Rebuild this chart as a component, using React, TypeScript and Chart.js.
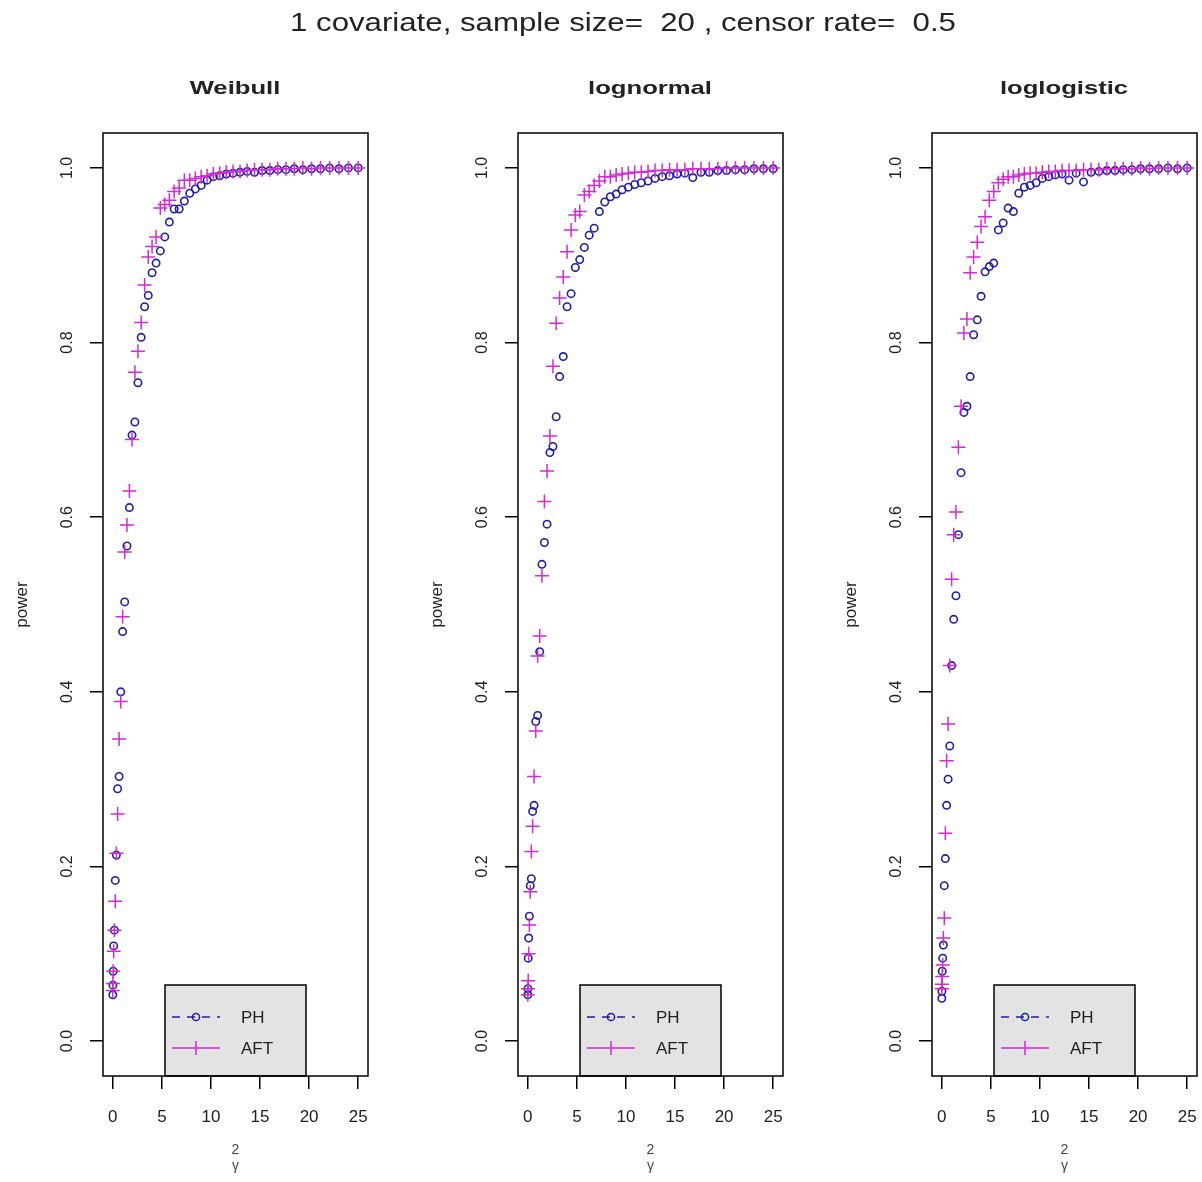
import React, { useEffect, useRef } from 'react';
import { Chart, registerables } from 'chart.js';

Chart.register(...registerables);

// ---------- data ----------
const MAIN_TITLE = '1 covariate, sample size=  20 , censor rate=  0.5';
const PANEL_TITLES = ['Weibull', 'lognormal', 'loglogistic'];
const LEGEND_LABELS = ['PH', 'AFT'];
const X_TICKS = [0, 5, 10, 15, 20, 25];
const Y_TICKS = [0, 0.2, 0.4, 0.6, 0.8, 1.0];
const Y_LABEL = 'power';
const X_LABEL = ['2', 'γ'];

// x = gamma^2
const GAMMA_SQ = [
  0, 0.01, 0.04, 0.09, 0.16, 0.25, 0.36, 0.49, 0.64, 0.81, 1, 1.21, 1.44, 1.69, 1.96, 2.25, 2.56,
  2.89, 3.24, 3.61, 4, 4.41, 4.84, 5.29, 5.76, 6.25, 6.76, 7.29, 7.84, 8.41, 9, 9.61, 10.24, 10.89,
  11.56, 12.25, 12.96, 13.69, 14.44, 15.21, 16, 16.81, 17.64, 18.49, 19.36, 20.25, 21.16, 22.09,
  23.04, 24.01, 25,
];

const WEIBULL_PH = [
  0.053, 0.064, 0.08, 0.109, 0.127, 0.184, 0.213, 0.289, 0.303, 0.4, 0.469, 0.503, 0.567, 0.611,
  0.694, 0.709, 0.754, 0.806, 0.841, 0.854, 0.88, 0.891, 0.905, 0.921, 0.938, 0.953, 0.953, 0.962,
  0.971, 0.976, 0.98, 0.986, 0.99, 0.991, 0.993, 0.994, 0.995, 0.996, 0.995, 0.997, 0.997, 0.998,
  0.998, 0.999, 0.998, 0.999, 0.999, 1.0, 0.999, 1.0, 1.0,
];
const WEIBULL_AFT = [
  0.058, 0.066, 0.08, 0.103, 0.127, 0.16, 0.215, 0.26, 0.346, 0.389, 0.486, 0.56, 0.591, 0.63,
  0.689, 0.766, 0.79, 0.823, 0.866, 0.898, 0.91, 0.921, 0.954, 0.958, 0.963, 0.973, 0.977, 0.986,
  0.986, 0.988, 0.99, 0.991, 0.993, 0.994, 0.995, 0.996, 0.996, 0.997, 0.998, 0.998, 0.998, 0.999,
  0.999, 0.999, 1.0, 0.999, 1.0, 1.0, 1.0, 1.0, 1.0,
];
const LOGNORMAL_PH = [
  0.053, 0.06, 0.095, 0.118, 0.143, 0.178, 0.186, 0.263, 0.27, 0.366, 0.373, 0.446, 0.546, 0.571,
  0.592, 0.674, 0.681, 0.715, 0.761, 0.784, 0.841, 0.856, 0.886, 0.895, 0.909, 0.923, 0.931, 0.95,
  0.961, 0.967, 0.97, 0.975, 0.978, 0.981, 0.983, 0.985, 0.988, 0.99, 0.991, 0.993, 0.994, 0.989,
  0.995, 0.995, 0.997, 0.997, 0.998, 0.998, 0.999, 0.999, 0.999,
];
const LOGNORMAL_AFT = [
  0.053, 0.06, 0.069, 0.1, 0.133, 0.171, 0.217, 0.246, 0.303, 0.355, 0.441, 0.464, 0.533, 0.618,
  0.653, 0.693, 0.773, 0.822, 0.851, 0.875, 0.904, 0.929, 0.946, 0.95, 0.969, 0.973, 0.98, 0.985,
  0.99, 0.99, 0.992, 0.993, 0.994, 0.995, 0.995, 0.996, 0.997, 0.997, 0.998, 0.998, 0.998, 0.999,
  0.999, 0.999, 0.999, 1.0, 1.0, 1.0, 1.0, 1.0, 1.0,
];
const LOGLOGISTIC_PH = [
  0.049, 0.057, 0.08, 0.095, 0.11, 0.178, 0.209, 0.27, 0.3, 0.338, 0.43, 0.483, 0.51, 0.58, 0.651,
  0.72, 0.727, 0.761, 0.809, 0.826, 0.853, 0.881, 0.887, 0.891, 0.929, 0.937, 0.954, 0.95, 0.971,
  0.978, 0.98, 0.983, 0.988, 0.99, 0.992, 0.993, 0.986, 0.994, 0.984, 0.995, 0.996, 0.997, 0.997,
  0.998, 0.998, 0.999, 0.999, 0.999, 1.0, 0.999, 1.0,
];
const LOGLOGISTIC_AFT = [
  0.06, 0.065, 0.074, 0.087, 0.118, 0.141, 0.238, 0.321, 0.363, 0.43, 0.529, 0.58, 0.606, 0.68,
  0.727, 0.811, 0.827, 0.88, 0.898, 0.915, 0.933, 0.944, 0.963, 0.973, 0.983, 0.987, 0.99, 0.99,
  0.992, 0.993, 0.994, 0.994, 0.995, 0.996, 0.996, 0.997, 0.997, 0.997, 0.998, 0.998, 0.998, 0.999,
  0.999, 0.999, 0.999, 1.0, 0.999, 1.0, 1.0, 1.0, 1.0,
];

const PANEL_PH = [WEIBULL_PH, LOGNORMAL_PH, LOGLOGISTIC_PH];
const PANEL_AFT = [WEIBULL_AFT, LOGNORMAL_AFT, LOGLOGISTIC_AFT];

// ---------- style ----------
const FONT = "'Liberation Sans', Arial, Helvetica, sans-serif";
const PH_COLOR = '#1f1fa6';
const AFT_COLOR = '#d42ad4';
const TEXT_COLOR = '#222222';
const PANEL_LEFTS = [0, 415, 829];
const CANVAS_W = 415;
const CANVAS_H = 1182;

const frame = {
  id: 'rFrame',
  afterDraw(chart: any) {
    const { ctx, chartArea: a } = chart;
    ctx.save();
    // legend (R legend("bottom"))
    const w = 141;
    const h = 91;
    const bx = (a.left + a.right) / 2 - w / 2;
    const by = a.bottom - h;
    ctx.fillStyle = '#e3e3e3';
    ctx.fillRect(bx, by, w, h);
    ctx.strokeStyle = '#000';
    ctx.lineWidth = 1.5;
    ctx.strokeRect(bx, by, w, h);

    const rows = [by + 32, by + 63];
    const x0 = bx + 7;
    const x1 = bx + 55;
    const xm = (x0 + x1) / 2;

    // PH row: dashed line + circle
    ctx.strokeStyle = PH_COLOR;
    ctx.lineWidth = 1.5;
    ctx.setLineDash([8, 7]);
    ctx.beginPath();
    ctx.moveTo(x0, rows[0]);
    ctx.lineTo(x1, rows[0]);
    ctx.stroke();
    ctx.setLineDash([]);
    ctx.beginPath();
    ctx.arc(xm, rows[0], 3.6, 0, Math.PI * 2);
    ctx.stroke();

    // AFT row: solid line + plus
    ctx.strokeStyle = AFT_COLOR;
    ctx.beginPath();
    ctx.moveTo(x0, rows[1]);
    ctx.lineTo(x1, rows[1]);
    ctx.moveTo(xm, rows[1] - 7);
    ctx.lineTo(xm, rows[1] + 7);
    ctx.stroke();

    ctx.fillStyle = TEXT_COLOR;
    ctx.font = `17px ${FONT}`;
    ctx.textAlign = 'left';
    ctx.textBaseline = 'middle';
    ctx.fillText(LEGEND_LABELS[0], bx + 76, rows[0] + 1);
    ctx.fillText(LEGEND_LABELS[1], bx + 76, rows[1] + 1);

    // plot box
    ctx.strokeStyle = '#000';
    ctx.lineWidth = 1.5;
    ctx.strokeRect(a.left, a.top, a.right - a.left, a.bottom - a.top);
    ctx.restore();
  },
};

function Panel({ idx }: { idx: number }) {
  const ref = useRef<HTMLCanvasElement | null>(null);
  useEffect(() => {
    const ph = PANEL_PH[idx];
    const aft = PANEL_AFT[idx];
    const chart = new Chart(ref.current as HTMLCanvasElement, {
      type: 'scatter',
      data: {
        datasets: [
          {
            label: LEGEND_LABELS[0],
            data: GAMMA_SQ.map((x, i) => ({ x, y: ph[i] })),
            pointStyle: 'circle',
            pointRadius: 3.7,
            borderColor: PH_COLOR,
            backgroundColor: 'rgba(0,0,0,0)',
            borderWidth: 1.6,
            order: 1,
          },
          {
            label: LEGEND_LABELS[1],
            data: GAMMA_SQ.map((x, i) => ({ x, y: aft[i] })),
            pointStyle: 'cross',
            pointRadius: 7,
            borderColor: AFT_COLOR,
            backgroundColor: AFT_COLOR,
            borderWidth: 1.5,
            order: 0,
          },
        ],
      },
      options: {
        animation: false,
        responsive: false,
        devicePixelRatio: 1,
        events: [],
        layout: { padding: { top: 133, right: 47, left: 0, bottom: 0 } },
        plugins: {
          legend: { display: false },
          title: { display: false },
          tooltip: { enabled: false },
        },
        scales: {
          x: {
            type: 'linear',
            min: -1,
            max: 26,
            afterBuildTicks: (s: any) => {
              s.ticks = X_TICKS.map((v) => ({ value: v }));
            },
            afterFit: (s: any) => {
              s.height = 106;
            },
            border: { display: false },
            grid: {
              display: true,
              drawOnChartArea: false,
              drawTicks: true,
              tickLength: 13,
              color: '#000',
              lineWidth: 1.5,
            },
            ticks: {
              color: TEXT_COLOR,
              font: { family: FONT, size: 17 },
              padding: 18,
              maxRotation: 0,
              minRotation: 0,
              callback: (v: any) => String(v),
            },
            title: {
              display: true,
              text: X_LABEL,
              color: '#444',
              font: { family: FONT, size: 14 },
              padding: { top: 0, bottom: 7 },
            },
          },
          y: {
            type: 'linear',
            min: -0.04,
            max: 1.04,
            afterBuildTicks: (s: any) => {
              s.ticks = Y_TICKS.map((v) => ({ value: v }));
            },
            afterFit: (s: any) => {
              s.width = 103;
            },
            border: { display: false },
            grid: {
              display: true,
              drawOnChartArea: false,
              drawTicks: true,
              tickLength: 13,
              color: '#000',
              lineWidth: 1.5,
            },
            ticks: {
              color: TEXT_COLOR,
              font: { family: FONT, size: 16 },
              padding: 11,
              minRotation: 90,
              maxRotation: 90,
              crossAlign: 'center',
              callback: (v: any) => Number(v).toFixed(1),
            },
            title: {
              display: true,
              text: Y_LABEL,
              color: TEXT_COLOR,
              font: { family: FONT, size: 17 },
              padding: { top: 12, bottom: 0 },
            },
          },
        },
      } as any,
      plugins: [frame],
    });
    return () => chart.destroy();
  }, [idx]);

  return (
    <canvas
      ref={ref}
      width={CANVAS_W}
      height={CANVAS_H}
      style={{ position: 'absolute', left: PANEL_LEFTS[idx], top: 0, width: CANVAS_W, height: CANVAS_H }}
    />
  );
}

export default function App() {
  return (
    <div
      style={{
        position: 'absolute',
        left: 0,
        top: 0,
        width: 1202,
        height: 1182,
        background: '#fff',
        overflow: 'hidden',
        fontFamily: FONT,
      }}
    >
      {PANEL_TITLES.map((_, i) => (
        <Panel key={i} idx={i} />
      ))}
      <div
        style={{
          position: 'absolute',
          left: 623,
          top: 22,
          transform: 'translate(-50%, -50%) scaleX(1.2)',
          fontSize: 26,
          whiteSpace: 'pre',
          color: TEXT_COLOR,
          lineHeight: 1,
        }}
      >
        {MAIN_TITLE}
      </div>
      {PANEL_TITLES.map((t, i) => (
        <div
          key={t}
          style={{
            position: 'absolute',
            left: PANEL_LEFTS[i] + 235,
            top: 87,
            transform: 'translate(-50%, -50%) scaleX(1.35)',
            fontSize: 19,
            fontWeight: 'bold',
            whiteSpace: 'pre',
            color: TEXT_COLOR,
            lineHeight: 1,
          }}
        >
          {t}
        </div>
      ))}
    </div>
  );
}
